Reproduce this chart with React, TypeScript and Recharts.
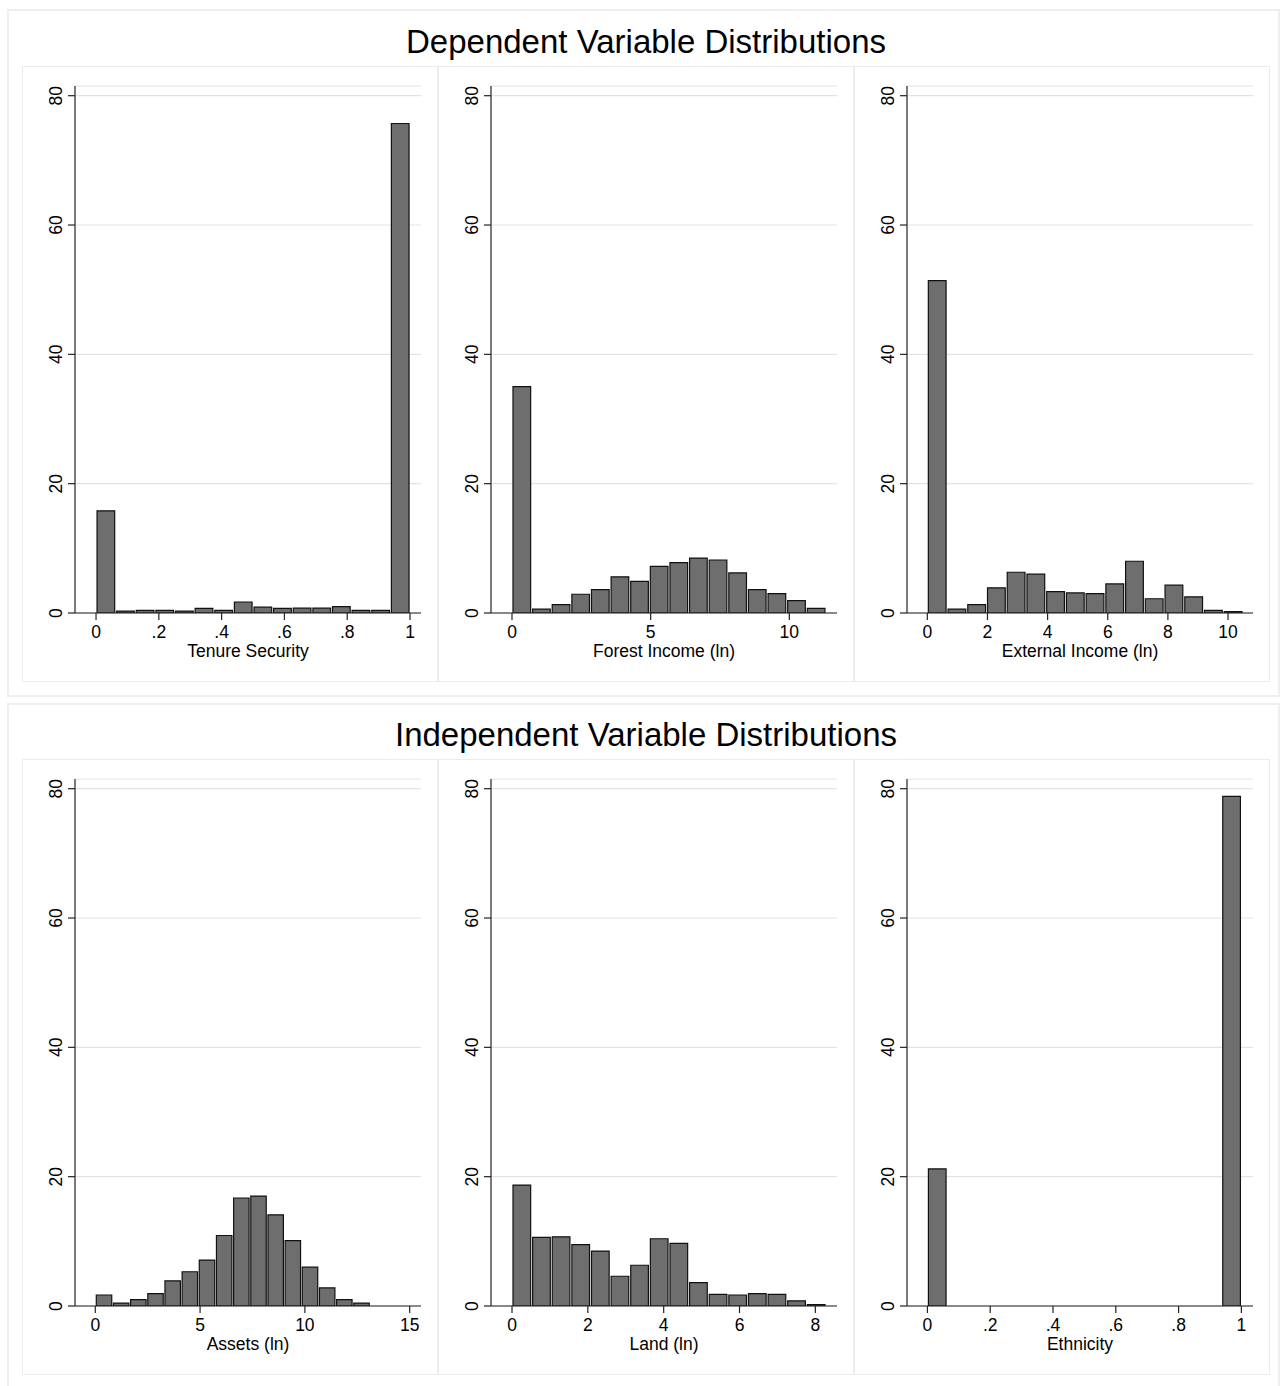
import React from 'react';
import { BarChart, Bar, XAxis, YAxis, CartesianGrid, Label } from 'recharts';

// percent of households per bin (16 bins each)
const tenureSecurity = [15.8, 0.3, 0.4, 0.4, 0.3, 0.7, 0.4, 1.7, 0.9, 0.7, 0.75, 0.75, 1.0, 0.4, 0.4, 75.7];
const forestIncome = [35.0, 0.6, 1.3, 2.9, 3.6, 5.6, 4.9, 7.2, 7.8, 8.5, 8.2, 6.2, 3.6, 3.0, 1.9, 0.7];
const externalIncome = [51.4, 0.6, 1.3, 3.9, 6.3, 6.0, 3.3, 3.1, 3.0, 4.5, 8.0, 2.2, 4.3, 2.5, 0.4, 0.2];
const assets = [1.7, 0.45, 1.0, 1.9, 3.9, 5.3, 7.1, 10.9, 16.7, 17.0, 14.1, 10.1, 6.0, 2.8, 1.0, 0.45];
const land = [18.7, 10.6, 10.7, 9.5, 8.5, 4.6, 6.3, 10.4, 9.7, 3.6, 1.8, 1.7, 1.9, 1.8, 0.8, 0.2];
const ethnicity = [21.2, 0, 0, 0, 0, 0, 0, 0, 0, 0, 0, 0, 0, 0, 0, 78.8];

// bin widths (all bins start at 0)
const tenureBin = 0.0625;
const forestBin = 0.7075;
const externalBin = 0.656;
const assetsBin = 0.819;
const landBin = 0.5175;
const ethnicityBin = 0.0625;

const yTicks = [0, 20, 40, 60, 80];
const fractionTicks = [0, 0.2, 0.4, 0.6, 0.8, 1];
const fractionLabels = ['0', '.2', '.4', '.6', '.8', '1'];
const forestTicks = [0, 5, 10];
const externalTicks = [0, 2, 4, 6, 8, 10];
const assetsTicks = [0, 5, 10, 15];
const landTicks = [0, 2, 4, 6, 8];

const FONT = "'Liberation Sans', Arial, Helvetica, sans-serif";
const PANEL_W = 416;
const PANEL_H = 616;
const Y_W = 52;
const M_RIGHT = 18;
const PLOT_W = PANEL_W - Y_W - M_RIGHT;

const toBins = (counts: number[], width: number) =>
  counts.map((pct, i) => ({ x: (i + 0.5) * width, pct }));

const YTick = (props: any) => {
  const { x, y, payload } = props;
  return (
    <text x={x} y={y} transform={`rotate(-90 ${x} ${y})`} textAnchor="middle"
      fontSize={17.5} fontFamily={FONT} fill="#000">
      {payload.value}
    </text>
  );
};

interface HistProps {
  counts: number[];
  binWidth: number;
  domain: [number, number];
  ticks: number[];
  labels?: string[];
  title: string;
}

const Histogram = ({ counts, binWidth, domain, ticks, labels, title }: HistProps) => {
  const data = toBins(counts, binWidth);
  const barSize = (binWidth / (domain[1] - domain[0])) * PLOT_W;
  const fmt = (v: number) => {
    const i = ticks.indexOf(v);
    return labels && i >= 0 ? labels[i] : String(v);
  };
  return (
    <BarChart width={PANEL_W} height={PANEL_H} data={data}
      margin={{ top: 19, right: M_RIGHT, left: 0, bottom: 0 }}>
      <CartesianGrid vertical={false} stroke="#e3e3e3" strokeWidth={1.2} />
      <XAxis type="number" dataKey="x" domain={domain} ticks={ticks} interval={0}
        allowDataOverflow height={70} tickSize={7} tickMargin={6}
        tickFormatter={fmt}
        axisLine={{ stroke: '#222', strokeWidth: 1.2 }}
        tickLine={{ stroke: '#222', strokeWidth: 1.2 }}
        tick={{ fill: '#000', fontSize: 17.5, fontFamily: FONT }}>
        <Label value={title} position="insideBottom" offset={26}
          style={{ fill: '#000', fontSize: 17.5, fontFamily: FONT }} />
      </XAxis>
      <YAxis type="number" domain={[0, 81.5]} ticks={yTicks} interval={0}
        allowDataOverflow width={Y_W} tickSize={7} tickMargin={6}
        axisLine={{ stroke: '#222', strokeWidth: 1.2 }}
        tickLine={{ stroke: '#222', strokeWidth: 1.2 }}
        tick={<YTick />} />
      <Bar dataKey="pct" fill="#6e6e6e" stroke="#111" strokeWidth={1.2}
        barSize={barSize} isAnimationActive={false} />
    </BarChart>
  );
};

const panelBox = (left: number, top: number): React.CSSProperties => ({
  position: 'absolute', left, top, width: PANEL_W, height: PANEL_H,
  border: '1px solid #ececec', boxSizing: 'border-box', background: '#fff',
});

const groupBox = (top: number): React.CSSProperties => ({
  position: 'absolute', left: 7, top, width: 1273, height: 688,
  border: '2px solid #efefef', boxSizing: 'border-box',
});

const titleStyle = (top: number): React.CSSProperties => ({
  position: 'absolute', left: 7, width: 1278, top, textAlign: 'center',
  fontFamily: FONT, fontSize: 33, color: '#000', lineHeight: '40px',
});

const App = () => (
  <div style={{ position: 'absolute', left: 0, top: 0, width: 1282, height: 1386, overflow: 'hidden', background: '#fff' }}>
    <div style={groupBox(9)} />
    <div style={groupBox(703)} />
    <div style={titleStyle(22)}>Dependent Variable Distributions</div>
    <div style={titleStyle(715)}>Independent Variable Distributions</div>

    <div style={panelBox(22, 66)}>
      <Histogram counts={tenureSecurity} binWidth={tenureBin} domain={[-0.067, 1.035]}
        ticks={fractionTicks} labels={fractionLabels} title="Tenure Security" />
    </div>
    <div style={panelBox(438, 66)}>
      <Histogram counts={forestIncome} binWidth={forestBin} domain={[-0.757, 11.72]}
        ticks={forestTicks} title="Forest Income (ln)" />
    </div>
    <div style={panelBox(854, 66)}>
      <Histogram counts={externalIncome} binWidth={externalBin} domain={[-0.676, 10.83]}
        ticks={externalTicks} title="External Income (ln)" />
    </div>

    <div style={panelBox(22, 759)}>
      <Histogram counts={assets} binWidth={assetsBin} domain={[-0.968, 15.54]}
        ticks={assetsTicks} title="Assets (ln)" />
    </div>
    <div style={panelBox(438, 759)}>
      <Histogram counts={land} binWidth={landBin} domain={[-0.554, 8.571]}
        ticks={landTicks} title="Land (ln)" />
    </div>
    <div style={panelBox(854, 759)}>
      <Histogram counts={ethnicity} binWidth={ethnicityBin} domain={[-0.065, 1.037]}
        ticks={fractionTicks} labels={fractionLabels} title="Ethnicity" />
    </div>
  </div>
);

export default App;
